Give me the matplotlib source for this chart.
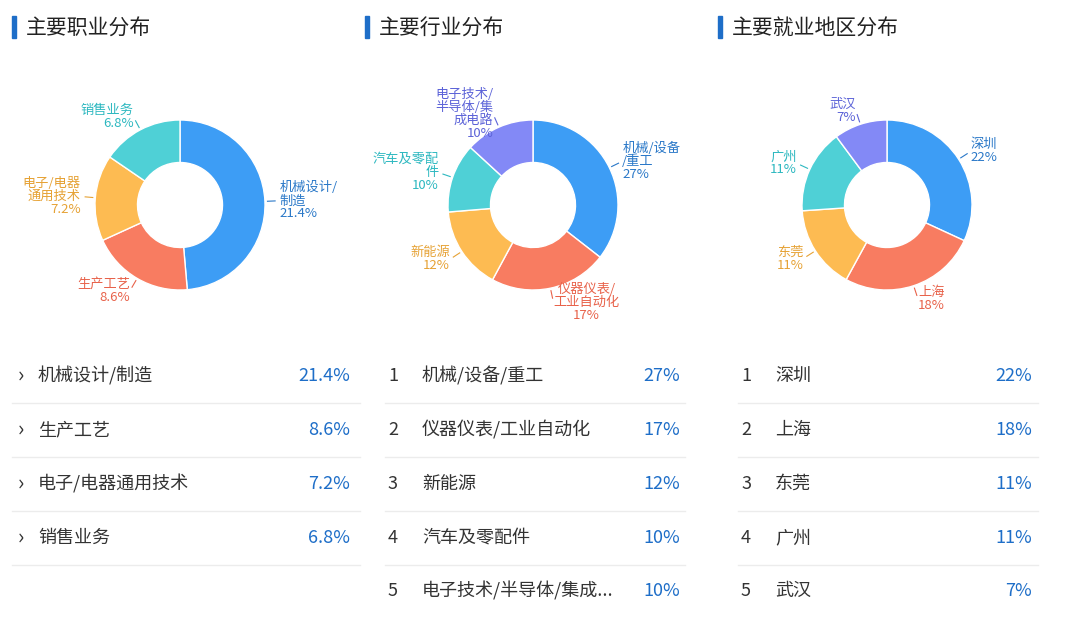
import matplotlib
matplotlib.use("Agg")
import matplotlib.pyplot as plt
import numpy as np

plt.rcParams['font.family'] = ['Noto Sans CJK SC', 'DejaVu Sans']

titles = ["主要职业分布", "主要行业分布", "主要就业地区分布"]

job_names = ["机械设计/制造", "生产工艺", "电子/电器通用技术", "销售业务"]
job_labels = ["机械设计/\n制造", "生产工艺", "电子/电器\n通用技术", "销售业务"]
job_vals = [21.4, 8.6, 7.2, 6.8]

ind_names = ["机械/设备/重工", "仪器仪表/工业自动化", "新能源", "汽车及零配件", "电子技术/半导体/集成..."]
ind_labels = ["机械/设备\n/重工", "仪器仪表/\n工业自动化", "新能源", "汽车及零配\n件", "电子技术/\n半导体/集\n成电路"]
ind_vals = [27, 17, 12, 10, 10]

city_names = ["深圳", "上海", "东莞", "广州", "武汉"]
city_vals = [22, 18, 11, 11, 7]

colors = ["#3d9df5", "#f87c61", "#fdbb52", "#4fd0d6", "#8389f6"]
label_colors = ["#2a78c8", "#e8624a", "#e6a235", "#2db8c0", "#5c63d8"]
pct_color = "#1e6ec8"
text_color = "#333333"

W, H = 1080, 617
fig = plt.figure(figsize=(W/100, H/100), dpi=100)
bg = fig.add_axes([0, 0, 1, 1])
bg.set_xlim(0, W); bg.set_ylim(H, 0); bg.axis("off")

def fmt(v, dec):
    return f"{v:.1f}%" if dec else f"{v:g}%"

def donut(cx, cy, r, vals, labels, dec):
    ax = fig.add_axes([(cx - r*1.9)/W, 1 - (cy + r*1.9)/H, r*3.8/W, r*3.8/H])
    wedges, _ = ax.pie(vals, colors=colors[:len(vals)], startangle=90, counterclock=False,
                       wedgeprops=dict(width=0.5, edgecolor="white", linewidth=1))
    ax.set_xlim(-1.9, 1.9); ax.set_ylim(-1.9, 1.9); ax.set_aspect("equal")
    for i, w in enumerate(wedges):
        ang = np.deg2rad((w.theta1 + w.theta2) / 2)
        x, y = np.cos(ang), np.sin(ang)
        ax.plot([1.03*x, 1.12*x], [1.03*y, 1.12*y], color=label_colors[i], lw=0.8)
        ha = "left" if x > 0 else "right"
        ax.text(1.17*x, 1.17*y, labels[i] + "\n" + fmt(vals[i], dec), ha=ha,
                va="center", fontsize=9.5, color=label_colors[i], linespacing=1.0,
                multialignment="center" if abs(x) < 0.3 else ("left" if x > 0 else "right"))

donut(180, 205, 85, job_vals, job_labels, True)
donut(533, 205, 85, ind_vals, ind_labels, False)
donut(887, 205, 85, city_vals, city_names, False)

for x0, t in zip([12, 365, 718], titles):
    bg.add_patch(plt.Rectangle((x0, 16), 3.5, 22, color="#1e6ec8"))
    bg.text(x0 + 14, 29, t, fontsize=15, va="center", color="#222222")

rows_y = [376, 430, 484, 538, 591]
for i, (n, v) in enumerate(zip(job_names, job_vals)):
    y = rows_y[i]
    bg.text(18, y, "›", fontsize=15, va="center", color=text_color)
    bg.text(38, y, n, fontsize=13, va="center", color=text_color)
    bg.text(350, y, fmt(v, True), fontsize=13, va="center", ha="right", color=pct_color)
    bg.plot([12, 360], [y + 27, y + 27], color="#ececec", lw=1)
for i, (n, v) in enumerate(zip(ind_names, ind_vals)):
    y = rows_y[i]
    bg.text(388, y, str(i+1), fontsize=13, va="center", color=text_color)
    bg.text(422, y, n, fontsize=13, va="center", color=text_color)
    bg.text(680, y, fmt(v, False), fontsize=13, va="center", ha="right", color=pct_color)
    bg.plot([385, 685], [y + 27, y + 27], color="#ececec", lw=1)
for i, (n, v) in enumerate(zip(city_names, city_vals)):
    y = rows_y[i]
    bg.text(741, y, str(i+1), fontsize=13, va="center", color=text_color)
    bg.text(775, y, n, fontsize=13, va="center", color=text_color)
    bg.text(1032, y, fmt(v, False), fontsize=13, va="center", ha="right", color=pct_color)
    bg.plot([738, 1038], [y + 27, y + 27], color="#ececec", lw=1)

fig.savefig("out.png", dpi=100, facecolor="white")
